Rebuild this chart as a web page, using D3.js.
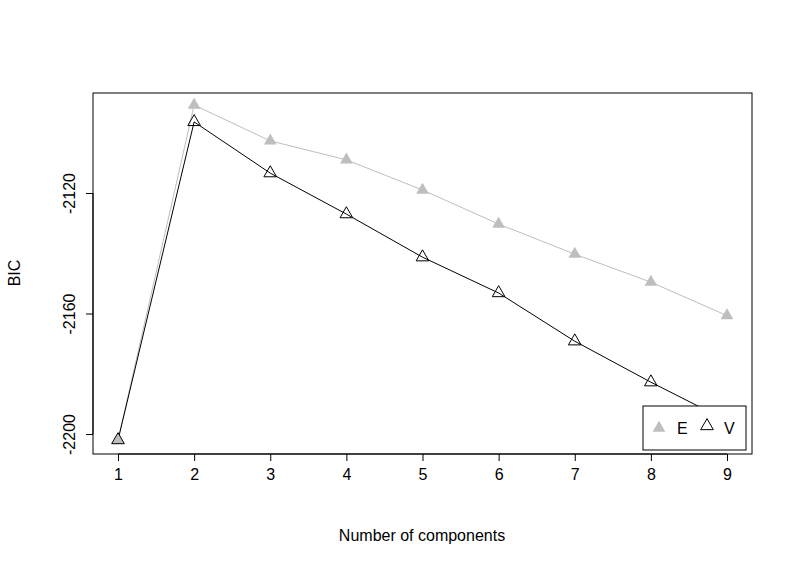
<!DOCTYPE html>
<html><head><meta charset="utf-8">
<script src="https://cdn.jsdelivr.net/npm/d3@7"></script>
<style>body{margin:0;background:#fff}text{font-family:"Liberation Sans",Arial,sans-serif}</style>
</head><body><svg id="c" width="800" height="571"></svg>
<script>
const components=[1,2,3,4,5,6,7,8,9];
const seriesE=[-2202,-2090.8,-2102.7,-2109,-2119,-2130.3,-2140.3,-2149.6,-2160.7];
const seriesV=[-2202,-2096.4,-2113.4,-2127,-2141.3,-2153.2,-2169.2,-2182.8,-2195.6];
const yTicks=[-2200,-2160,-2120];
const svg=d3.select("#c");
const L=93,R=752,T=93,B=454,FS="16px";
const x=d3.scaleLinear().domain([1,9]).range([118,727]);
const y=d3.scaleLinear().domain([-2200,-2120]).range([434,193]);
svg.append("rect").attr("x",L).attr("y",T).attr("width",R-L).attr("height",B-T).attr("fill","none").attr("stroke","#000");
const xa=svg.append("g").attr("transform",`translate(0,${B})`).call(d3.axisBottom(x).tickValues(components).tickSize(7).tickPadding(8).tickFormat(d=>String(d)));
const ya=svg.append("g").attr("transform",`translate(${L},0)`).call(d3.axisLeft(y).tickValues(yTicks).tickSize(7).tickFormat(d=>String(d)));
[xa,ya].forEach(a=>{a.attr("font-family",null).attr("font-size",null);a.select(".domain").remove();a.selectAll("text").style("font-size",FS).style("font-family","Liberation Sans, Arial, sans-serif").attr("fill","#000");});
svg.append("line").attr("x1",x(1)).attr("x2",x(9)).attr("y1",B).attr("y2",B).attr("stroke","#000");
svg.append("line").attr("x1",L).attr("x2",L).attr("y1",y(-2200)).attr("y2",y(-2120)).attr("stroke","#000");
ya.selectAll(".tick text").attr("text-anchor","middle").attr("x",0).attr("y",0).attr("dy",null).attr("transform","translate(-18,0) rotate(-90)");
svg.append("text").attr("x",422).attr("y",541).attr("text-anchor","middle").style("font-size",FS).text("Number of components");
svg.append("text").attr("transform","translate(20,273) rotate(-90)").attr("text-anchor","middle").style("font-size",FS).text("BIC");
const line=d3.line().x((d,i)=>x(components[i])).y(d=>y(d));
const tri=d3.symbol().type(d3.symbolTriangle).size(70);
svg.append("path").datum(seriesE).attr("d",line).attr("fill","none").attr("stroke","#bebebe");
svg.append("path").datum(seriesV).attr("d",line).attr("fill","none").attr("stroke","#000");
svg.selectAll(".e").data(seriesE).join("path").attr("d",tri).attr("transform",(d,i)=>`translate(${x(components[i])},${y(d)})`).attr("fill","#bebebe");
svg.selectAll(".v").data(seriesV).join("path").attr("d",tri).attr("transform",(d,i)=>`translate(${x(components[i])},${y(d)})`).attr("fill","none").attr("stroke","#000");
const lg=svg.append("g");
lg.append("rect").attr("x",643).attr("y",406).attr("width",103).attr("height",44).attr("fill","#fff").attr("stroke","#000");
lg.append("path").attr("d",tri).attr("transform","translate(659,428)").attr("fill","#bebebe");
lg.append("text").attr("x",677).attr("y",434).style("font-size",FS).text("E");
lg.append("path").attr("d",tri).attr("transform","translate(707,426)").attr("fill","none").attr("stroke","#000");
lg.append("text").attr("x",724).attr("y",434).style("font-size",FS).text("V");
</script></body></html>
